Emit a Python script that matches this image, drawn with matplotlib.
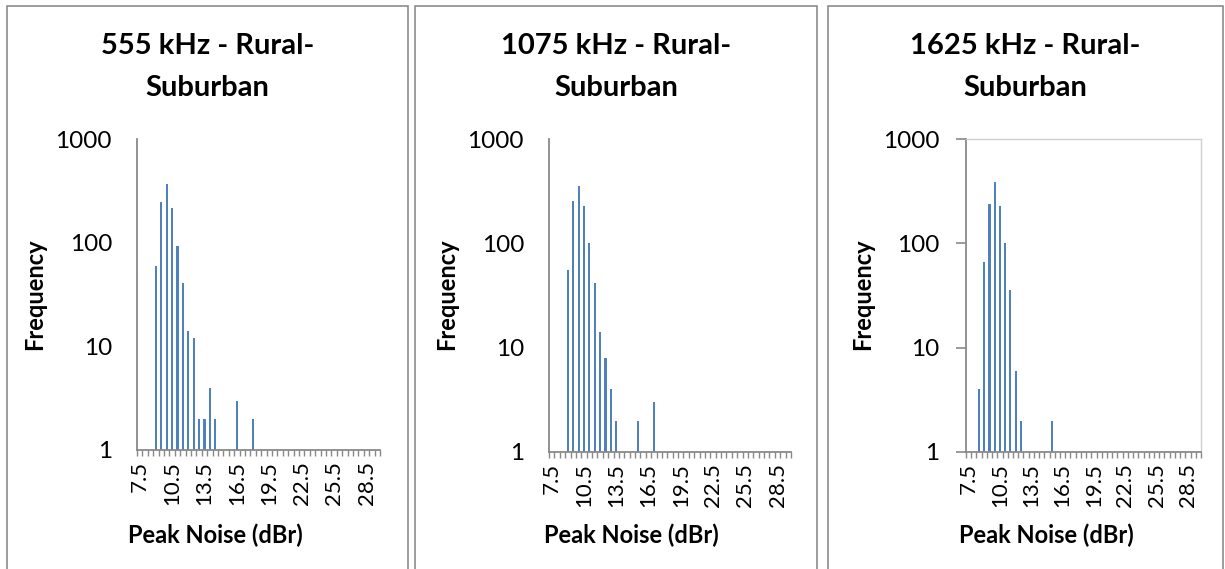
import matplotlib.pyplot as plt
from matplotlib.patches import Rectangle
from matplotlib.ticker import FixedLocator, NullLocator

# Histogram bins (peak noise, dBr) shared by the three charts
noise_bins = [7.5, 8.0, 8.5, 9.0, 9.5, 10.0, 10.5, 11.0, 11.5, 12.0, 12.5,
              13.0, 13.5, 14.0, 14.5, 15.0, 15.5, 16.0, 16.5, 17.0, 17.5,
              18.0, 18.5, 19.0, 19.5, 20.0, 20.5, 21.0, 21.5, 22.0, 22.5,
              23.0, 23.5, 24.0, 24.5, 25.0, 25.5, 26.0, 26.5, 27.0, 27.5,
              28.0, 28.5, 29.0, 29.5]

# non-empty bins and their counts
bins_555 = [9.0, 9.5, 10.0, 10.5, 11.0, 11.5, 12.0, 12.5, 13.0, 13.5, 14.0, 14.5, 16.5, 18.0]
freq_555 = [59, 249, 367, 217, 93, 41, 14, 12, 2, 2, 4, 2, 3, 2]

bins_1075 = [9.0, 9.5, 10.0, 10.5, 11.0, 11.5, 12.0, 12.5, 13.0, 13.5, 15.5, 17.0]
freq_1075 = [56, 252, 357, 226, 100, 42, 14, 8, 4, 2, 2, 3]

bins_1625 = [8.5, 9.0, 9.5, 10.0, 10.5, 11.0, 11.5, 12.0, 12.5, 15.5]
freq_1625 = [4, 66, 240, 384, 226, 101, 36, 6, 2, 2]

titles = ["555 kHz - Rural-\nSuburban", "1075 kHz - Rural-\nSuburban", "1625 kHz - Rural-\nSuburban"]
y_ticks = [1, 10, 100, 1000]
x_label_every = 6

W, H = 1225, 569
plt.rcParams['font.family'] = ['Lato', 'DejaVu Sans']

fig = plt.figure(figsize=(W / 100, H / 100), dpi=100)


def fx(x):
    return x / W


def fy(y):
    return 1 - y / H


# panel borders (left, right) and plot areas (left, right, top, bottom) in px
panels = [(7, 408), (415, 817), (828, 1223)]
plot_areas = [(137, 380, 139, 450), (549, 791, 139, 452), (966, 1201, 139, 452)]
ylabel_x = [35, 447, 863]
xlabel_x = [215, 631, 1046]
data = [(bins_555, freq_555), (bins_1075, freq_1075), (bins_1625, freq_1625)]

axis_grey = '#898989'
bar_blue = '#4F81BD'

for i in range(3):
    pl, pr = panels[i]
    fig.add_artist(Rectangle((fx(pl), fy(H + 10)), fx(pr - pl), (H + 4) / H,
                             transform=fig.transFigure, fill=False,
                             edgecolor='#8C8C8C', linewidth=1.2))

    l, r, t, b = plot_areas[i]
    ax = fig.add_axes([fx(l), fy(b), fx(r - l), (b - t) / H])

    bins, freq = data[i]
    pos = [noise_bins.index(v) for v in bins]
    ax.bar(pos, freq, width=0.4, color=bar_blue, linewidth=0)

    ax.set_yscale('log')
    ax.set_ylim(1, 1000)
    ax.set_xlim(-0.5, len(noise_bins) - 0.5)
    ax.yaxis.set_major_locator(FixedLocator(y_ticks))
    ax.yaxis.set_minor_locator(NullLocator())
    ax.set_yticklabels([str(v) for v in y_ticks])

    label_pos = list(range(0, len(noise_bins), x_label_every))
    ax.set_xticks(label_pos)
    ax.set_xticklabels([f"{noise_bins[p]:.1f}" for p in label_pos], rotation=90)
    ax.xaxis.set_minor_locator(FixedLocator([p - 0.5 for p in range(len(noise_bins) + 1)]))
    ax.tick_params(axis='x', which='major', length=0, pad=8, labelsize=16)
    ax.tick_params(axis='x', which='minor', length=4, width=1, color=axis_grey, direction='out')

    if i == 2:
        ax.tick_params(axis='y', which='major', length=7, width=1.2, color=axis_grey,
                       pad=12, labelsize=17.5)
        for side in ['top', 'right']:
            ax.spines[side].set_color('#D0D0D0')
            ax.spines[side].set_linewidth(1)
    else:
        ax.tick_params(axis='y', which='major', length=0, pad=18, labelsize=17.5)
        ax.spines['top'].set_visible(False)
        ax.spines['right'].set_visible(False)
    for side in ['left', 'bottom']:
        ax.spines[side].set_color(axis_grey)
        ax.spines[side].set_linewidth(1.3)

    fig.text(fx((pl + pr) / 2), fy(67), titles[i], ha='center', va='center',
             fontsize=21, fontweight='bold', linespacing=1.75)
    fig.text(fx(ylabel_x[i]), fy(294), "Frequency", rotation=90, ha='center', va='center',
             fontsize=17, fontweight='bold')
    fig.text(fx(xlabel_x[i]), fy(535), "Peak Noise (dBr)", ha='center', va='center',
             fontsize=17, fontweight='bold')

fig.savefig("out.png", dpi=100)
